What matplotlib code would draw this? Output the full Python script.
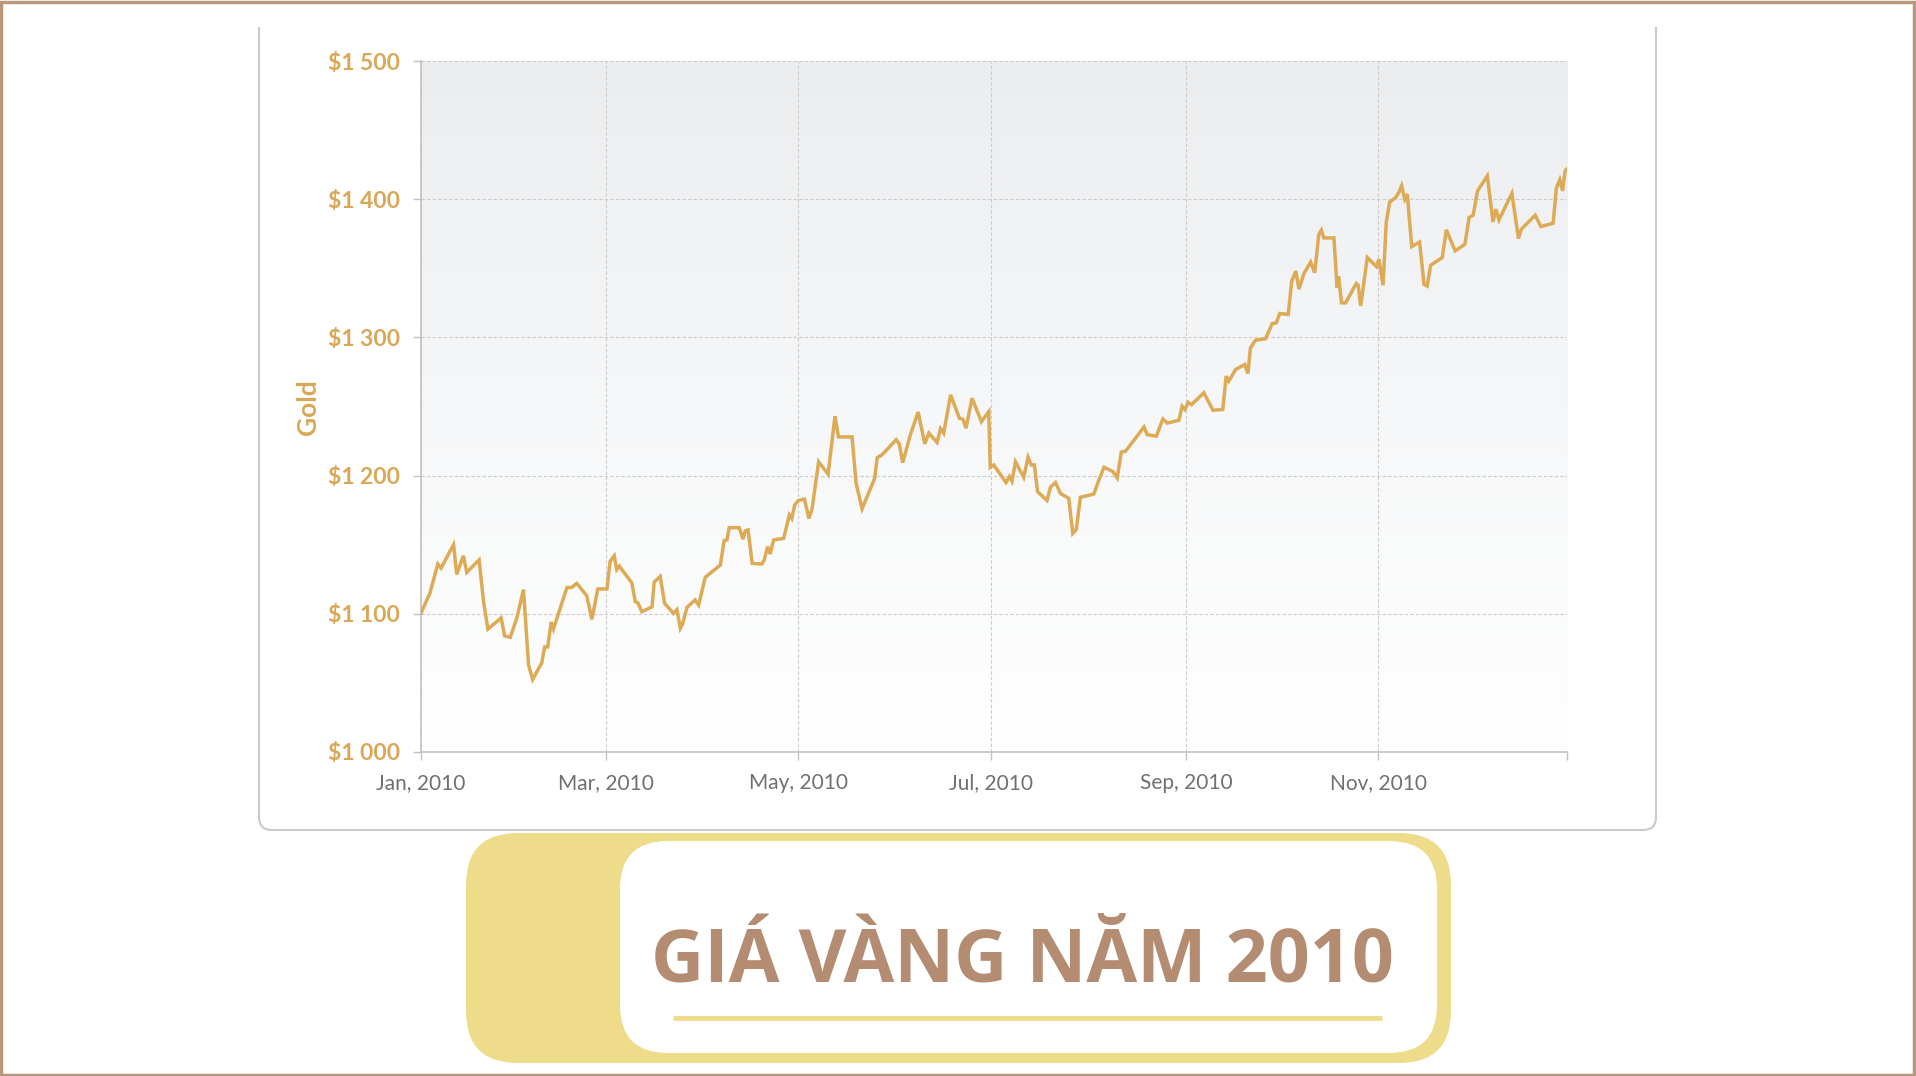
import numpy as np
import matplotlib
matplotlib.use("Agg")
import matplotlib.pyplot as plt
from matplotlib.colors import LinearSegmentedColormap
from matplotlib.patches import FancyBboxPatch, PathPatch, Rectangle
from matplotlib.path import Path

# day of year 2010 (0 = Jan 1) and gold price in USD
days = [0.2, 3.0, 5.5, 6.5, 10.5, 11.5, 13.6, 14.7, 18.6, 20.0, 21.4, 25.6, 26.7, 28.5,
        30.6, 32.7, 34.3, 35.6, 38.5, 39.4, 40.4, 41.5, 42.2, 46.5, 48.0, 49.6, 52.8,
        54.4, 56.3, 59.2, 60.2, 61.5, 62.3, 63.1, 67.1, 68.2, 69.0, 70.3, 73.5, 74.2,
        76.1, 77.5, 80.3, 81.4, 82.5, 83.2, 84.6, 87.2, 88.3, 90.4, 95.2, 96.4, 97.3,
        98.0, 101.2, 102.4, 103.1, 104.0, 105.3, 108.4, 109.2, 110.2, 111.0, 112.1,
        115.3, 117.1, 117.9, 118.8, 120.0, 121.9, 123.3, 124.3, 126.4, 129.4, 131.6,
        132.7, 137.0, 138.3, 140.2, 144.2, 145.0, 146.5, 148.6, 151.0, 152.0, 153.1,
        155.5, 158.0, 160.1, 161.4, 164.0, 165.1, 166.1, 168.3, 171.1, 172.2, 173.2,
        175.1, 178.1, 180.4, 180.9, 182.0, 185.9, 187.0, 187.8, 188.9, 191.5, 192.9,
        193.9, 194.9, 195.9, 198.9, 200.0, 201.6, 203.2, 205.8, 207.1, 208.2, 209.5,
        213.8, 215.2, 217.0, 219.8, 221.2, 222.5, 223.8, 227.5, 229.7, 230.7, 233.6,
        235.7, 237.1, 240.8, 241.8, 242.7, 243.7, 244.8, 248.7, 251.6, 254.7, 255.8,
        256.6, 258.8, 261.7, 262.7, 263.5, 265.1, 268.3, 270.4, 271.7, 272.8, 275.5,
        276.6, 277.9, 278.9, 280.5, 282.6, 283.9, 285.2, 286.0, 286.8, 290.0, 291.0,
        291.5, 292.4, 293.7, 297.1, 297.7, 298.5, 300.6, 303.5, 304.3, 305.6, 306.6,
        307.7, 309.6, 310.6, 311.5, 312.5, 313.3, 314.7, 317.2, 318.6, 319.6, 320.7,
        324.4, 325.7, 328.5, 331.6, 332.9, 334.2, 335.6, 338.7, 340.5, 341.4, 342.4,
        346.5, 348.6, 349.5, 353.9, 355.7, 359.6, 360.6, 361.7, 362.6, 363.4, 363.9]
price = [1100.7, 1115, 1136, 1133, 1150, 1128.5, 1142, 1130, 1139, 1109, 1089, 1097, 1084, 1083,
         1097, 1117.6, 1063, 1052.5, 1064.5, 1076, 1076, 1094, 1089, 1119, 1119, 1122, 1113,
         1096, 1118, 1118, 1138, 1142, 1132, 1134.5, 1122.4, 1108.7, 1108, 1101.5, 1105, 1123,
         1127, 1107.6, 1100.3, 1103, 1089.5, 1092.6, 1104.7, 1110, 1106.3, 1126.4, 1135.3, 1153, 1153.4,
         1162.3, 1162.3, 1154, 1160, 1160.7, 1136.5, 1136, 1139.4, 1148.6, 1143.3, 1153.4,
         1154.6, 1171.5, 1169, 1178.8, 1182, 1183, 1169, 1175.6, 1210, 1201, 1243,
         1228, 1228, 1194.5, 1176, 1198, 1213, 1215, 1220, 1226, 1223, 1209.4,
         1229.4, 1246, 1223, 1230.7, 1224, 1234, 1230.7, 1258.4, 1241.5, 1240.8, 1234.3,
         1256, 1239, 1246.3, 1206, 1207.7, 1195, 1199.3, 1196, 1210, 1198.8, 1213.3,
         1207.7, 1207.7, 1188.4, 1182, 1191.6, 1195, 1187, 1183.6, 1158.2, 1161, 1184.3,
         1186.7, 1195.7, 1206, 1203, 1198.3, 1217, 1217.6, 1228.5, 1235.2, 1229.7, 1228.5,
         1241, 1238, 1240, 1250.2, 1247.8, 1253, 1251.4, 1259.9, 1247.3, 1247.8, 1272,
         1268.3, 1276.8, 1280.4, 1273.9, 1292.4, 1298, 1299, 1310, 1310.5, 1317.3, 1316.6,
         1340.7, 1348, 1335, 1346.3, 1354.5, 1346.8, 1374.5, 1377.6, 1372, 1372, 1336,
         1344, 1325, 1325, 1339, 1337.7, 1322.8, 1357.8, 1351.2, 1356.6, 1337.7, 1383,
         1398, 1401.2, 1404.8, 1409.7, 1400, 1403.6, 1365.7, 1369, 1338.5, 1337.2, 1352.2,
         1357.8, 1377.8, 1362.6, 1367.4, 1386.7, 1388.4, 1406, 1416.9, 1383.6, 1392.8, 1385,
         1404.3, 1371.5, 1378.3, 1388.4, 1380.2, 1382.6, 1407.7, 1414, 1406, 1420.5, 1421.7]

tick_days = [0, 59, 120, 181, 243, 304, 364]
tick_labels = ["Jan, 2010", "Mar, 2010", "May, 2010", "Jul, 2010", "Sep, 2010", "Nov, 2010", ""]
y_ticks = [1000, 1100, 1200, 1300, 1400, 1500]
y_labels = ["$1 000", "$1 100", "$1 200", "$1 300", "$1 400", "$1 500"]
title = "GIÁ VÀNG NĂM 2010"

W, H = 1916, 1076
gold = "#DDAA55"
label_gold = "#D9A756"
yellow = "#EFDC8A"
brown = "#B48C72"

fig = plt.figure(figsize=(W / 100, H / 100), dpi=100)
fig.patch.set_facecolor("white")

# background layer in pixel coordinates
bg = fig.add_axes([0, 0, 1, 1], zorder=0)
bg.set_xlim(0, W)
bg.set_ylim(H, 0)
bg.axis("off")

bg.add_patch(Rectangle((1.5, 1.5), W - 3, H - 3, fill=False, ec="#B8977A", lw=2.5))

# card outline (open at the top)
r = 13
l, rt, b, t = 259, 1656, 830, 27
verts = [(l, t), (l, b - r), (l, b), (l + r, b), (rt - r, b), (rt, b), (rt, b - r), (rt, t)]
codes = [Path.MOVETO, Path.LINETO, Path.CURVE3, Path.CURVE3, Path.LINETO,
         Path.CURVE3, Path.CURVE3, Path.LINETO]
bg.add_patch(PathPatch(Path(verts, codes), fill=False, ec="#CACACA", lw=1.5))

# title box
bg.add_patch(FancyBboxPatch((466, 833), 985, 230, boxstyle="round,pad=0,rounding_size=52",
                            fc=yellow, ec="none"))
bg.add_patch(FancyBboxPatch((620, 841), 817, 212, boxstyle="round,pad=0,rounding_size=48",
                            fc="white", ec="none"))
bg.plot([673, 1382], [1018, 1018], color=yellow, lw=3.5, solid_capstyle="butt")
bg.text(1022, 962, title, ha="center", va="center", fontsize=53, fontweight="bold",
        family="Open Sans", color=brown)

# chart
ax = fig.add_axes([420.5 / W, 1 - 752 / H, (1567 - 420.5) / W, (752 - 61) / H], zorder=1)
ax.patch.set_alpha(0)
cmap = LinearSegmentedColormap.from_list("bggrad", ["#ECEDEF", "#F6F7F8", "#FFFFFF"])
ax.imshow(np.linspace(0, 1, 256).reshape(-1, 1), cmap=cmap, aspect="auto",
          extent=[0, 364, 1000, 1500], origin="upper", zorder=0)

ax.plot(days, price, color=gold, lw=2.5, solid_joinstyle="miter", zorder=3)

ax.set_xlim(0, 364)
ax.set_ylim(1000, 1500)
ax.set_xticks(tick_days)
ax.set_xticklabels(tick_labels)
ax.set_yticks(y_ticks)
ax.set_yticklabels(y_labels)

ax.grid(True, ls=(0, (3, 2)), color="#CBCBCB", lw=0.8)
ax.set_axisbelow(True)
for s in ["top", "right"]:
    ax.spines[s].set_visible(False)
for s in ["left", "bottom"]:
    ax.spines[s].set_color("#C2C2C2")
    ax.spines[s].set_linewidth(1.2)

ax.tick_params(axis="both", direction="out", length=6, width=1, color="#C2C2C2")
ax.tick_params(axis="x", pad=9, labelsize=15, labelcolor="#707070")
ax.tick_params(axis="y", pad=9, labelsize=16.5, labelcolor=label_gold)
for lab in ax.get_xticklabels():
    lab.set_family("Lato")
for lab in ax.get_yticklabels():
    lab.set_family("Lato")
    lab.set_fontweight("bold")

fig.text(308 / W, 1 - 407 / H, "Gold", rotation=90, ha="center", va="center",
         fontsize=19, fontweight="bold", family="Lato", color=label_gold)

fig.savefig("out.png", dpi=100, facecolor="white")
